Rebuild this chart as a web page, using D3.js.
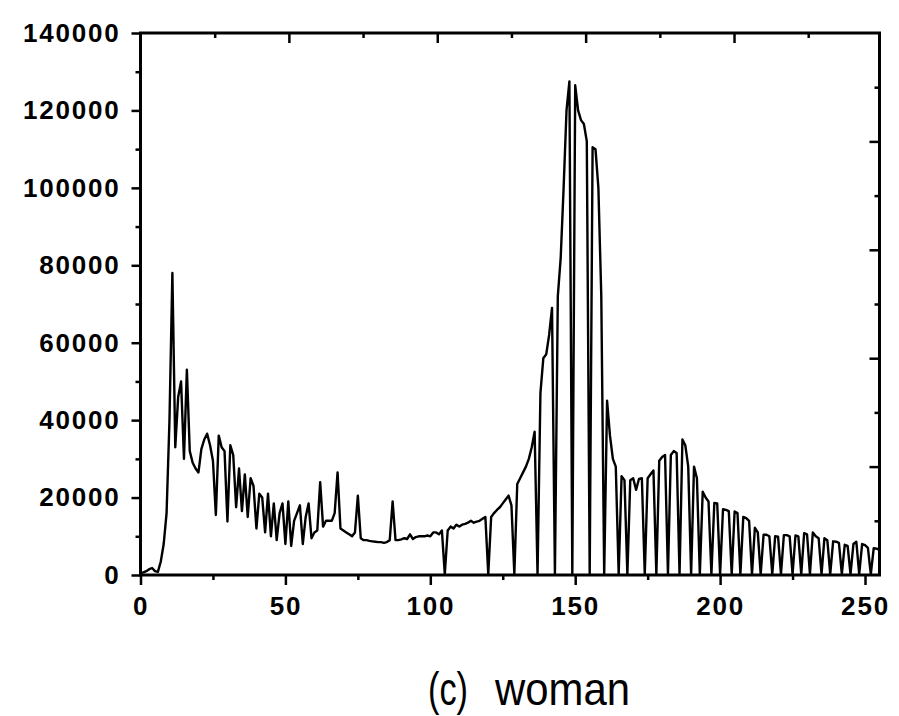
<!DOCTYPE html>
<html lang="en">
<head>
    <meta charset="utf-8">
    <title>(c) woman</title>
    <style>
        body {
            margin: 0;
            background: white;
        }

        .tick text {
            font-family: "Liberation Sans", Arial, sans-serif;
            font-weight: bold;
            font-size: 26px;
            letter-spacing: 1.8px;
            fill: black;
        }

        .tick line {
            stroke: black;
            stroke-width: 2.5px;
        }

        .caption {
            font-family: "Liberation Sans", Arial, sans-serif;
            font-size: 46px;
            fill: black;
        }
    </style>
</head>
<body>

<svg width="899" height="716"></svg>

<script src="https://d3js.org/d3.v7.min.js"></script>
<script>
  // histogram counts, one per grey level 0..255
  const counts = [
    500, 700, 1000, 1500, 1800, 1000, 800, 3500, 8000, 16000,
    40000, 78000, 33000, 46000, 50000, 30000, 53000, 32000, 29000, 27500,
    26500, 32500, 35000, 36500, 33500, 29500, 15500, 36000, 33000, 32000,
    13800, 33500, 31000, 17500, 27500, 16500, 26000, 15000, 25000, 23000,
    12000, 21000, 20000, 11000, 21000, 10000, 18500, 9000, 16000, 18500,
    8000, 19000, 7500, 14000, 16000, 18000, 8000, 15000, 18500, 9500,
    11000, 11500, 24000, 12500, 14000, 14000, 14000, 16000, 26500, 12000,
    11500, 11000, 10500, 10000, 11000, 20500, 9500, 9000, 9000, 8800,
    8700, 8600, 8500, 8500, 8300, 8500, 9000, 19000, 9000, 9000,
    9200, 9500, 9300, 10500, 9300, 9800, 10000, 10000, 10000, 10200,
    10000, 11000, 11000, 10500, 11500, 300, 11500, 12500, 12000, 13000,
    12500, 13000, 13200, 13500, 14000, 13500, 13800, 14000, 14500, 15000,
    200, 15000, 16000, 16800, 17500, 18500, 19500, 20500, 18000, 200,
    23500, 25000, 26500, 28000, 30000, 33000, 37000, 200, 47000, 56000,
    57000, 62000, 69000, 200, 72000, 82000, 100000, 120000, 127500, 200,
    126500, 120000, 117500, 116500, 112000, 200, 110500, 110000, 100000, 72000,
    200, 45000, 36000, 30000, 28000, 200, 25500, 24500, 200, 24500,
    25000, 22000, 24800, 25000, 200, 25000, 26000, 27000, 200, 29500,
    30500, 31000, 200, 31000, 32000, 31500, 200, 35000, 33500, 28000,
    200, 28000, 25000, 200, 21500, 20000, 19000, 200, 18600, 18500,
    200, 17000, 16800, 16500, 200, 16400, 16000, 200, 15000, 14700,
    14000, 200, 12200, 11000, 200, 10400, 10400, 10000, 200, 10000,
    9900, 200, 10300, 10300, 10000, 200, 10200, 10000, 200, 10800,
    10500, 200, 11000, 10000, 9500, 200, 9500, 9000, 200, 8700,
    8600, 8300, 200, 7800, 7500, 200, 8000, 8600, 200, 8000,
    7700, 7000, 200, 6900, 6800, 6500
  ];

  const xTicks = [0, 50, 100, 150, 200, 250];
  const xMinorTicks = [25, 75, 125, 175, 225];
  const yTicks = [0, 20000, 40000, 60000, 80000, 100000, 120000, 140000];
  const yMinorTicks = [10000, 30000, 50000, 70000, 90000, 110000, 130000];
  const caption = ["(c)", "woman"];

  const margin = {top: 33, right: 19.5, bottom: 141, left: 140.5};

  const svg = d3.select("svg");
  const width = +svg.attr("width") - margin.left - margin.right;
  const height = +svg.attr("height") - margin.top - margin.bottom;

  const vis = svg.append("g")
    .attr("transform", `translate(${margin.left},${margin.top})`);

  const xScale = d3.scaleLinear().domain([0, 255]).range([0, width]);
  const yScale = d3.scaleLinear().domain([0, 140000]).range([height, 0]);

  // opposite axes of the frame use ten equal steps
  const topTicks = d3.range(1, 10).map(i => i * 25.6);
  const rightTicks = d3.range(1, 10).map(i => i * 14000);

  // left axis: labelled majors + minors, pointing out
  vis.append("g")
    .call(d3.axisLeft(yScale).tickValues(yTicks).tickFormat(d3.format("d"))
      .tickSize(9).tickSizeOuter(0).tickPadding(11))
    .call(g => g.select(".domain").remove());
  vis.append("g")
    .call(d3.axisLeft(yScale).tickValues(yMinorTicks).tickSize(5).tickFormat(""))
    .call(g => g.select(".domain").remove());

  // bottom axis
  vis.append("g")
    .attr("transform", `translate(0,${height})`)
    .call(d3.axisBottom(xScale).tickValues(xTicks).tickFormat(d3.format("d"))
      .tickSize(10).tickSizeOuter(0).tickPadding(12))
    .call(g => g.select(".domain").remove());
  vis.append("g")
    .attr("transform", `translate(0,${height})`)
    .call(d3.axisBottom(xScale).tickValues(xMinorTicks).tickSize(5).tickFormat(""))
    .call(g => g.select(".domain").remove());

  // top axis: ticks pointing in
  vis.append("g")
    .call(d3.axisTop(xScale).tickValues(topTicks).tickSizeOuter(0).tickFormat("")
      .tickSize(-1))
    .call(g => g.select(".domain").remove())
    .selectAll(".tick line")
    .attr("y2", (d, i) => i % 2 === 1 ? 10 : 5);

  // right axis: ticks pointing in
  vis.append("g")
    .attr("transform", `translate(${width},0)`)
    .call(d3.axisRight(yScale).tickValues(rightTicks).tickSizeOuter(0).tickFormat("")
      .tickSize(-1))
    .call(g => g.select(".domain").remove())
    .selectAll(".tick line")
    .attr("x2", (d, i) => i % 2 === 1 ? -10 : -5);

  // data
  const line = d3.line()
    .x((d, i) => xScale(i))
    .y(d => yScale(d));

  vis.append("path")
    .datum(counts)
    .attr("fill", "none")
    .attr("stroke", "black")
    .attr("stroke-width", 2.4)
    .attr("stroke-linejoin", "round")
    .attr("d", line);

  // frame
  vis.append("rect")
    .attr("width", width)
    .attr("height", height)
    .attr("fill", "none")
    .attr("stroke", "black")
    .attr("stroke-width", 3);

  // caption
  svg.append("text")
    .attr("class", "caption")
    .attr("x", 428)
    .attr("y", 705)
    .attr("textLength", 40)
    .attr("lengthAdjust", "spacingAndGlyphs")
    .text(caption[0]);
  svg.append("text")
    .attr("class", "caption")
    .attr("x", 495)
    .attr("y", 705)
    .attr("textLength", 135)
    .attr("lengthAdjust", "spacingAndGlyphs")
    .text(caption[1]);
</script>

</body>
</html>
